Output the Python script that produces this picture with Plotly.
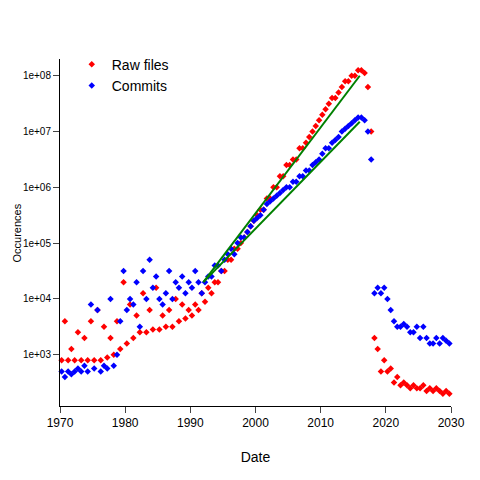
import plotly.graph_objects as go

# years and log10 of occurrences (two samples per year)
years = list(range(1970, 2030))

raw_log = [
    (2.9, 3.6), (2.9, 3.1), (2.9, 3.4), (2.9, 3.3), (2.9, 3.6), (2.9, 3.8), (2.9, 3.5), (2.95, 3.3),
    (3.0, 3.6), (3.1, 4.3), (3.2, 3.9), (3.3, 3.7), (3.4, 4.1), (3.4, 3.8), (3.45, 4.2), (3.45, 3.7),
    (3.5, 3.8), (3.5, 4.0), (3.6, 3.9), (3.65, 3.8), (3.7, 3.9), (3.8, 4.1), (3.95, 4.2), (4.1, 4.3),
    (4.3, 4.5), (4.5, 4.7), (4.7, 4.9), (4.9, 5.0), (5.1, 5.2), (5.3, 5.4), (5.5, 5.6), (5.6, 5.8),
    (5.8, 6.0), (6.0, 6.2), (6.2, 6.4), (6.4, 6.5), (6.5, 6.7), (6.7, 6.8), (6.9, 7.0), (7.1, 7.2),
    (7.3, 7.4), (7.5, 7.6), (7.6, 7.7), (7.8, 7.9), (7.9, 8.0), (8.0, 8.1), (8.1, 8.05), (7.8, 7.0),
    (3.3, 3.1), (2.7, 2.9), (2.7, 2.75), (2.5, 2.6), (2.45, 2.5), (2.45, 2.4), (2.45, 2.4), (2.4, 2.45),
    (2.35, 2.4), (2.35, 2.4), (2.35, 2.3), (2.35, 2.3),
]

commit_log = [
    (2.7, 2.6), (2.7, 2.65), (2.7, 2.75), (2.7, 2.8), (2.7, 3.9), (2.75, 3.8), (2.7, 2.8), (2.75, 4.0),
    (2.8, 3.0), (3.6, 4.5), (3.8, 4.0), (3.9, 4.3), (3.5, 4.5), (4.0, 4.7), (4.2, 4.4), (4.0, 3.9),
    (4.1, 4.5), (4.0, 4.3), (4.2, 4.4), (4.1, 4.3), (4.2, 4.5), (4.3, 4.1), (4.3, 4.4), (4.4, 4.6),
    (4.6, 4.5), (4.7, 4.8), (4.9, 4.8), (5.0, 5.1), (5.1, 5.2), (5.3, 5.4), (5.45, 5.5), (5.6, 5.7),
    (5.75, 5.8), (5.85, 5.9), (5.95, 6.0), (6.0, 6.1), (6.1, 6.2), (6.2, 6.3), (6.3, 6.4), (6.45, 6.5),
    (6.6, 6.7), (6.7, 6.8), (6.85, 6.9), (7.0, 7.05), (7.1, 7.15), (7.2, 7.25), (7.25, 7.2), (7.0, 6.5),
    (4.1, 4.2), (4.1, 4.2), (4.0, 3.8), (3.6, 3.5), (3.5, 3.55), (3.5, 3.4), (3.4, 3.5), (3.3, 3.5),
    (3.3, 3.2), (3.2, 3.3), (3.2, 3.3), (3.25, 3.2),
]

# fitted trend lines (endpoints)
fit_years = [1992, 2016]
raw_fit = [2e4, 1e8]
commit_fit = [2e4, 1.5e7]


def expand(pairs):
    xs, ys = [], []
    for yr, (a, b) in zip(years, pairs):
        xs += [yr + 0.25, yr + 0.75]
        ys += [10 ** a, 10 ** b]
    return xs, ys


rx, ry = expand(raw_log)
cx, cy = expand(commit_log)

fig = go.Figure()
fig.add_trace(go.Scatter(x=rx, y=ry, mode="markers", name="Raw files",
                         marker=dict(symbol="diamond", size=5, color="red")))
fig.add_trace(go.Scatter(x=cx, y=cy, mode="markers", name="Commits",
                         marker=dict(symbol="diamond", size=5, color="blue")))
fig.add_trace(go.Scatter(x=fit_years, y=raw_fit, mode="lines", showlegend=False,
                         line=dict(color="green", width=2)))
fig.add_trace(go.Scatter(x=fit_years, y=commit_fit, mode="lines", showlegend=False,
                         line=dict(color="green", width=2)))

tickvals = [1e3, 1e4, 1e5, 1e6, 1e7, 1e8]
ticktext = ["1e+03", "1e+04", "1e+05", "1e+06", "1e+07", "1e+08"]

fig.update_layout(
    width=480, height=480,
    plot_bgcolor="white", paper_bgcolor="white",
    font=dict(family="Liberation Sans, Arial", size=12, color="black"),
    margin=dict(l=52, r=37, t=51, b=82),
    legend=dict(x=0.03, y=1.03, xanchor="left", yanchor="top", tracegroupgap=0,
                font=dict(size=14)),
    xaxis=dict(range=[1970, 2030], tickvals=[1970, 1980, 1990, 2000, 2010, 2020, 2030],
               showgrid=False, zeroline=False, showline=True, linecolor="black",
               ticks="outside", ticklen=6, automargin=False,
               title=dict(text="Date", standoff=22)),
    yaxis=dict(type="log", range=[2.08, 8.3], tickvals=tickvals, ticktext=ticktext,
               showgrid=False, zeroline=False, showline=True, linecolor="black",
               ticks="outside", ticklen=6, automargin=False, tickfont=dict(size=10)),
    annotations=[dict(text="Occurences", textangle=-90, xref="paper", yref="paper",
                      x=-0.11, y=0.5, xanchor="center", yanchor="middle",
                      showarrow=False, font=dict(size=11))],
)
fig.update_traces(cliponaxis=False)

fig.write_html("out.html")
